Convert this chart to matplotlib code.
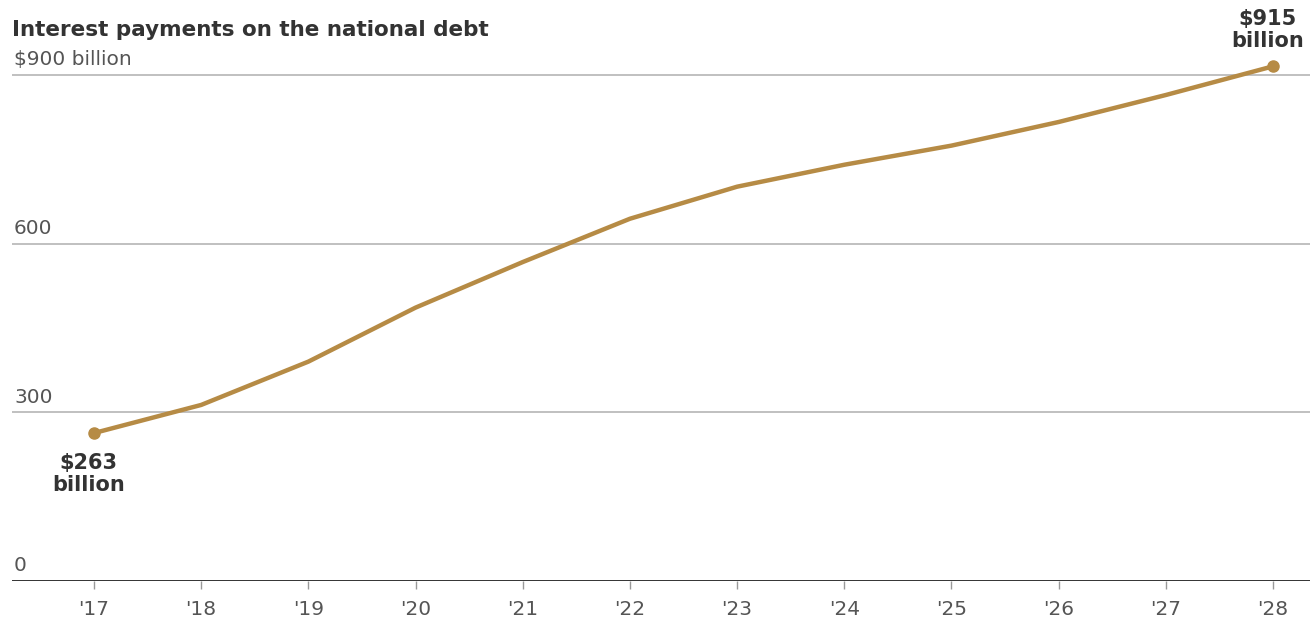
import matplotlib.pyplot as plt

# Projected interest payments, billions of dollars
years = [2017, 2018, 2019, 2020, 2021, 2022, 2023, 2024, 2025, 2026, 2027, 2028]
interest = [263, 313, 390, 486, 567, 644, 701, 740, 774, 816, 864, 915]
x_labels = ["'17", "'18", "'19", "'20", "'21", "'22", "'23", "'24", "'25", "'26", "'27", "'28"]
y_ticks = [0, 300, 600, 900]
y_labels = ["0", "300", "600", "$900 billion"]

line_color = '#b68b45'
label_font = 'DejaVu Sans'

fig = plt.figure(figsize=(13.1, 6.24), dpi=100)
ax = fig.add_axes([12 / 1310, 43 / 624, 1298 / 1310, 540 / 624])

ax.plot(years, interest, color=line_color, lw=3.2, solid_capstyle='round', zorder=3)
ax.plot([years[0], years[-1]], [interest[0], interest[-1]], 'o', color=line_color,
        ms=8, zorder=4)

ax.set_xlim(2016.235, 2028.345)
ax.set_ylim(0, 960)

# gridlines with labels sitting just above them
for v, lab in zip(y_ticks, y_labels):
    if v == 0:
        ax.axhline(v, color='#333333', lw=1.4, zorder=2)
    else:
        ax.axhline(v, color='#b5b5b5', lw=1.2, zorder=1)
    ax.text(0.0015, v + 10, lab, transform=ax.get_yaxis_transform(), ha='left',
            va='bottom', fontsize=14.5, color='#555555', family=label_font)

ax.set_yticks([])
ax.set_xticks(years)
ax.set_xticklabels(x_labels, fontsize=14.5, color='#555555', family=label_font)
ax.tick_params(axis='x', length=6, width=1, color='#999999', pad=8)
for s in ax.spines.values():
    s.set_visible(False)

ax.annotate('$%d\nbillion' % interest[0], (years[0], interest[0]), xytext=(-4, -14),
            textcoords='offset points', ha='center', va='top', fontsize=15,
            fontweight='bold', color='#333333', linespacing=1.15)
ax.annotate('$%d\nbillion' % interest[-1], (years[-1], interest[-1]), xytext=(-4, 11),
            textcoords='offset points', ha='center', va='bottom', fontsize=15,
            fontweight='bold', color='#333333', linespacing=1.15)

fig.text(12 / 1310, 1 - 30 / 624, 'Interest payments on the national debt', ha='left',
         va='center', fontsize=15.5, fontweight='bold', color='#333333',
         family='DejaVu Sans')

fig.savefig('out.png', dpi=100, facecolor='white')
